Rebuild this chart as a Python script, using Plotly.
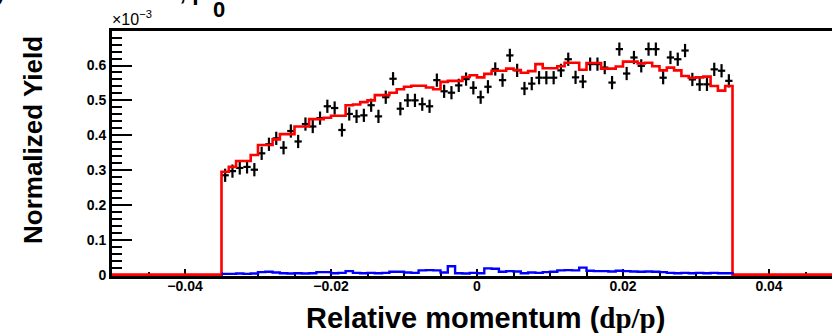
import numpy as np
import plotly.graph_objects as go

# ---------------- data ----------------
bin_low = -0.035
bin_width = 0.001
n_bins = 70

# black points: data (units of 1e-3)
data_yield = [
    0.285, 0.297, 0.306, 0.309, 0.301, 0.348, 0.374, 0.391, 0.364, 0.412,
    0.382, 0.432, 0.425, 0.449, 0.483, 0.478, 0.415, 0.461, 0.454, 0.457,
    0.486, 0.454, 0.509, 0.562, 0.476, 0.500, 0.500, 0.489, 0.483, 0.558,
    0.526, 0.522, 0.543, 0.561, 0.536, 0.509, 0.539, 0.590, 0.558, 0.629,
    0.586, 0.534, 0.548, 0.565, 0.565, 0.565, 0.586, 0.618, 0.566, 0.554,
    0.604, 0.604, 0.594, 0.551, 0.647, 0.577, 0.623, 0.599, 0.647, 0.647,
    0.565, 0.623, 0.618, 0.643, 0.560, 0.546, 0.546, 0.589, 0.585, 0.556,
]
data_err = 0.019

# red histogram: simulation
sim_yield = [
    0.295, 0.309, 0.326, 0.326, 0.343, 0.372, 0.372, 0.388, 0.403, 0.403,
    0.425, 0.425, 0.446, 0.446, 0.450, 0.456, 0.456, 0.486, 0.488, 0.495,
    0.500, 0.515, 0.515, 0.522, 0.532, 0.539, 0.542, 0.542, 0.537, 0.532,
    0.553, 0.556, 0.556, 0.567, 0.572, 0.566, 0.576, 0.585, 0.585, 0.591,
    0.587, 0.579, 0.584, 0.604, 0.592, 0.592, 0.598, 0.608, 0.608, 0.588,
    0.607, 0.607, 0.591, 0.591, 0.597, 0.611, 0.611, 0.606, 0.608, 0.598,
    0.586, 0.594, 0.586, 0.570, 0.565, 0.566, 0.568, 0.541, 0.528, 0.541,
]

# blue histogram: background
bkg_yield = [
    0.002, 0.002, 0.003, 0.002, 0.003, 0.007, 0.008, 0.006, 0.004, 0.003,
    0.004, 0.003, 0.004, 0.007, 0.007, 0.004, 0.005, 0.010, 0.005, 0.004,
    0.005, 0.004, 0.005, 0.008, 0.008, 0.006, 0.005, 0.012, 0.013, 0.012,
    0.006, 0.024, 0.004, 0.003, 0.005, 0.004, 0.018, 0.017, 0.008, 0.010,
    0.009, 0.004, 0.006, 0.005, 0.007, 0.008, 0.012, 0.013, 0.012, 0.020,
    0.011, 0.010, 0.010, 0.009, 0.011, 0.010, 0.009, 0.008, 0.009, 0.008,
    0.007, 0.005, 0.004, 0.005, 0.004, 0.005, 0.004, 0.005, 0.004, 0.004,
]

x_min, x_max = -0.05, 0.05
x_tick_vals = [-0.04, -0.02, 0.0, 0.02, 0.04]
x_tick_text = ["\u22120.04", "\u22120.02", "0", "0.02", "0.04"]
y_tick_vals = [0, 0.1, 0.2, 0.3, 0.4, 0.5, 0.6]
y_tick_text = ["0", "0.1", "0.2", "0.3", "0.4", "0.5", "0.6"]

# ---------------- derived ----------------
edges = bin_low + bin_width * np.arange(n_bins + 1)
centers = edges[:-1] + bin_width / 2

sim_x = np.concatenate([[x_min], edges, [x_max]])
sim_y = np.concatenate([[0], sim_yield, [0, 0]])
bkg_x = edges
bkg_y = np.concatenate([bkg_yield, [0]])

W, H = 832, 333
ML, MR, MT, MB = 112, 0, 31, 57
PW = W - ML - MR
PH = H - MT - MB
x_range = [x_min, x_min + PW * (0.02 / 146)]

def px(xp):
    return (xp - ML) / PW

def py(yp):
    return (H - MB - yp) / PH

FONT = "Liberation Sans"

fig = go.Figure()

fig.add_trace(go.Scatter(
    x=centers, y=data_yield, mode="markers",
    marker=dict(size=2, color="black"),
    error_y=dict(type="constant", value=data_err, color="black", thickness=2.2, width=0),
    error_x=dict(type="constant", value=bin_width / 2, color="black", thickness=2.2, width=0),
    showlegend=False,
))
fig.add_trace(go.Scatter(
    x=sim_x, y=sim_y, mode="lines", line=dict(color="#ff0000", width=2.6, shape="hv"),
    showlegend=False,
))
fig.add_trace(go.Scatter(
    x=bkg_x, y=bkg_y, mode="lines", line=dict(color="#0000ff", width=2.4, shape="hv"),
    showlegend=False,
))

fig.update_layout(
    width=W, height=H, autosize=False,
    margin=dict(l=ML, r=MR, t=MT, b=MB, pad=0),
    paper_bgcolor="white", plot_bgcolor="white",
    font=dict(family=FONT, color="black"),
)

fig.update_xaxes(
    range=x_range, showgrid=False, zeroline=False,
    showline=True, linecolor="black", linewidth=3, mirror=True,
    layer="below traces",
    tickmode="array", tickvals=x_tick_vals, ticktext=x_tick_text,
    ticks="inside", ticklen=7, tickwidth=2, tickcolor="black",
    ticklabelstandoff=-5,
    tickfont=dict(family=FONT, size=14, weight="bold", color="black"),
    minor=dict(tickmode="linear", tick0=0, dtick=0.005, ticks="inside", ticklen=4,
               tickwidth=2, tickcolor="black"),
)
fig.update_yaxes(
    range=[-0.004, 0.699], showgrid=False, zeroline=False,
    showline=True, linecolor="black", linewidth=3, mirror=False,
    layer="below traces",
    tickmode="array", tickvals=y_tick_vals, ticktext=y_tick_text,
    ticks="inside", ticklen=20, tickwidth=2, tickcolor="black",
    tickfont=dict(family=FONT, size=14, weight="bold", color="black"),
    minor=dict(tickmode="linear", tick0=0, dtick=0.02, ticks="inside", ticklen=10,
               tickwidth=2, tickcolor="black"),
)

annotations = [
    dict(text="Normalized Yield", x=px(33), y=py(140), xref="paper", yref="paper",
         showarrow=False, textangle=-90, font=dict(family=FONT, size=26, weight="bold"),
         xanchor="center", yanchor="middle"),
    dict(text="Relative momentum (<span style='font-family:Liberation Serif'>dp/p</span>)",
         x=px(485), y=py(318), xref="paper", yref="paper",
         showarrow=False, font=dict(family=FONT, size=29, weight="bold"),
         xanchor="center", yanchor="middle"),
    dict(text="\u00d710<sup>\u22123</sup>", x=px(110), y=py(30), xref="paper", yref="paper",
         showarrow=False, font=dict(family=FONT, size=16),
         xanchor="left", yanchor="bottom"),
    dict(text="Momentum Study at Central Field, p", x=px(208), y=py(7), xref="paper", yref="paper",
         showarrow=False, font=dict(family=FONT, size=23, weight="bold"),
         xanchor="right", yanchor="bottom"),
    dict(text="0", x=px(219), y=py(9), xref="paper", yref="paper",
         showarrow=False, font=dict(family=FONT, size=22, weight="bold"),
         xanchor="center", yanchor="middle"),
]
fig.update_layout(annotations=annotations)

fig.write_html("out.html")
